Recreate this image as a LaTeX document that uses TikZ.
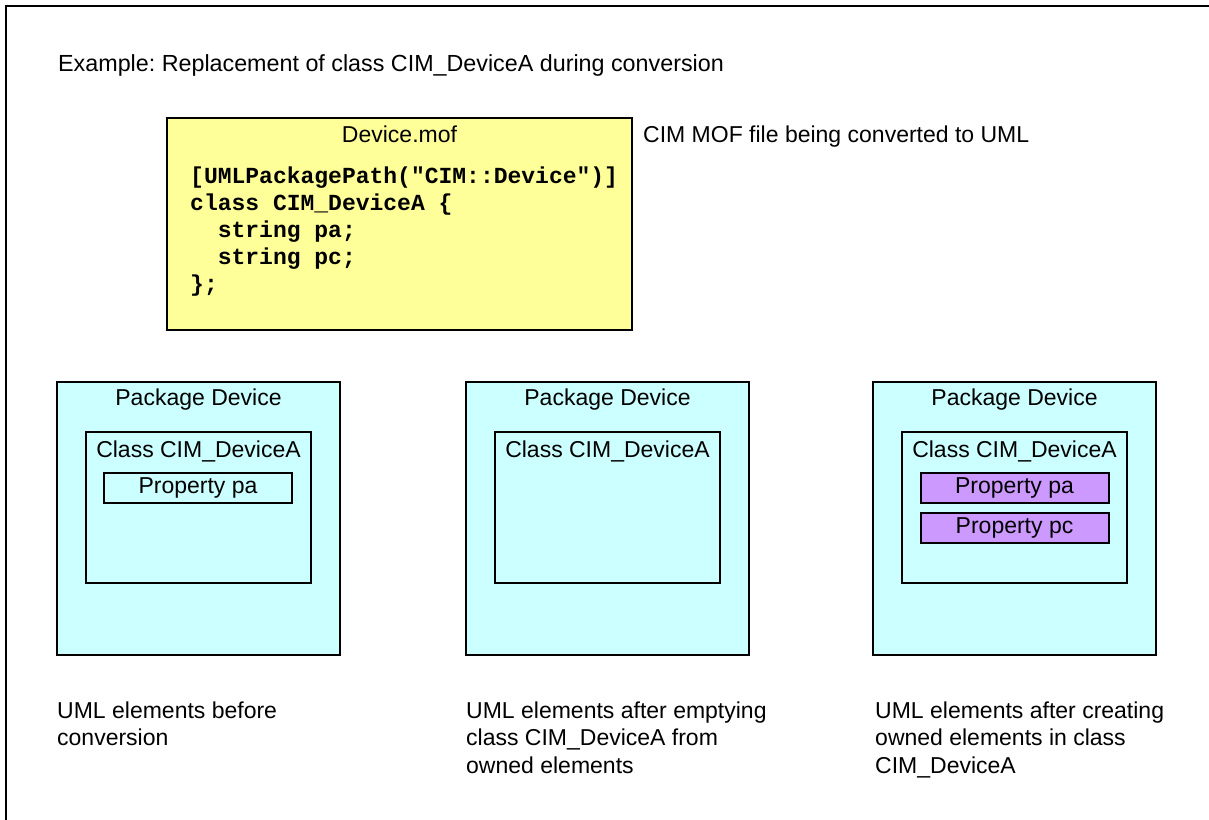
\documentclass[tikz,border=0pt]{standalone}
\usepackage{fontspec}
\setmainfont{Liberation Sans}
\newfontfamily\codefont{Liberation Mono}
\frenchspacing
\definecolor{pkgcyan}{HTML}{CCFFFF}
\definecolor{mofyellow}{HTML}{FFFF99}
\definecolor{proppurple}{HTML}{CC99FF}
\tikzset{
  txt/.style={inner sep=0pt, font=\fontsize{23}{27.5}\selectfont},
  pkgbox/.style={draw=black, line width=2.4pt, fill=pkgcyan, minimum width=283pt, minimum height=273pt, inner sep=0pt},
  clsbox/.style={draw=black, line width=2pt, minimum width=225pt, minimum height=151pt, inner sep=0pt},
  propbox/.style={draw=black, line width=2pt, fill=proppurple, minimum width=188pt, minimum height=30pt, inner sep=0pt, font=\fontsize{23}{27.5}\selectfont},
  propplain/.style={propbox, fill=none},
  mofbox/.style={draw=black, line width=2.4pt, fill=mofyellow, minimum width=465pt, minimum height=212pt, inner sep=0pt},
  frameline/.style={draw=black, line width=2.4pt}
}
\begin{document}
\begin{tikzpicture}[x=1pt, y=-1pt]
\useasboundingbox (0,0) rectangle (1209,819);
% outer frame (only left and top visible)
\coordinate (fbl) at (6,840);
\coordinate (ftl) at (6,6);
\coordinate (ftr) at (1230,6);
\draw[frameline] (fbl) -- (ftl) -- (ftr);

% title
\node[txt, anchor=base west, font=\fontsize{23.3}{27.5}\selectfont] (title) at (58,71) {Example: Replacement of class CIM\_DeviceA during conversion};

% MOF box
\node[mofbox] (mof) at (399.5,224) {};
\node[txt, anchor=base] (moft) at (399.5,142) {Device.mof};
% multi-line node: base anchor is the baseline of the last line
\node[inner sep=0pt, anchor=base west, align=left, font=\codefont\bfseries\fontsize{23}{27}\selectfont] (code) at (190,291)
  {[UMLPackagePath("CIM::Device")]\\class CIM\_DeviceA \{\\\phantom{st}string pa;\\\phantom{st}string pc;\\\};};
\node[txt, anchor=base west] (mofnote) at (643,142) {CIM MOF file being converted to UML};

% Package 1
\node[pkgbox] (p1) at (198.5,518.5) {};
\node[txt, anchor=base] (p1t) at (198.5,405) {Package Device};
\node[clsbox] (c1) at (198.5,507.5) {};
\node[txt, anchor=base] (c1t) at (198.5,457) {Class CIM\_DeviceA};
\node[propplain] (p1a) at (198,488) {Property pa};

% Package 2
\node[pkgbox] (p2) at (607.5,518.5) {};
\node[txt, anchor=base] (p2t) at (607.5,405) {Package Device};
\node[clsbox] (c2) at (607.5,507.5) {};
\node[txt, anchor=base] (c2t) at (607.5,457) {Class CIM\_DeviceA};

% Package 3
\node[pkgbox] (p3) at (1014.5,518.5) {};
\node[txt, anchor=base] (p3t) at (1014.5,405) {Package Device};
\node[clsbox] (c3) at (1014.5,507.5) {};
\node[txt, anchor=base] (c3t) at (1014.5,457) {Class CIM\_DeviceA};
\node[propbox] (p3a) at (1014.5,488) {Property pa};
\node[propbox] (p3c) at (1014.5,527.5) {Property pc};

% captions (anchored at the baseline of their last line)
\node[txt, anchor=base west, align=left] (cap1) at (57,745.5) {UML elements before\\conversion};
\node[txt, anchor=base west, align=left] (cap2) at (466,773) {UML elements after emptying\\class CIM\_DeviceA from\\owned elements};
\node[txt, anchor=base west, align=left] (cap3) at (875,773) {UML elements after creating\\owned elements in class\\CIM\_DeviceA};
\end{tikzpicture}
\end{document}
